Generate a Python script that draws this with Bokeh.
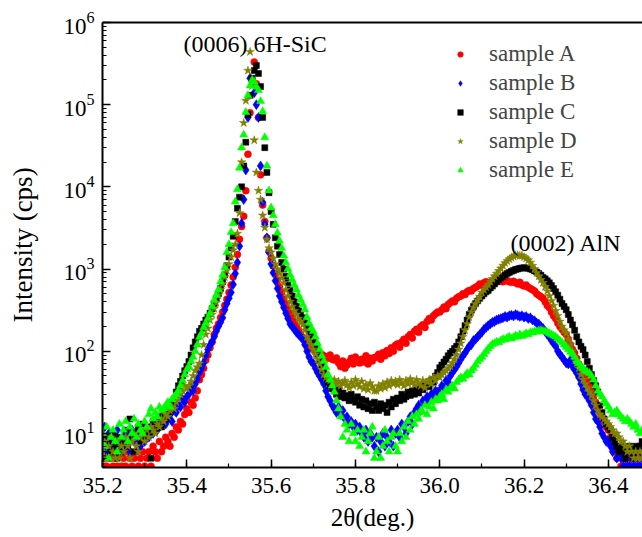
import numpy as np
from bokeh.plotting import figure
from bokeh.models import (LinearAxis, LogAxis, LogTicker, SingleIntervalTicker, FixedTicker,
                          NumeralTickFormatter, Legend, LegendItem, Label, Range1d)
from bokeh.embed import file_html
from bokeh.resources import INLINE

# 2-theta scan grid (deg.), 0.005 deg step
two_theta = np.round(35.2 + 0.005 * np.arange(257), 3)

sample_a = [
    5, 4, 4, 6, 5, 4, 5, 4, 6, 4,
    5, 4, 6, 5, 4, 5, 6, 4, 5, 6,
    4, 5, 6, 4, 7, 6, 5, 8, 6, 7,
    9, 8, 7, 10, 9, 12, 11, 14, 13, 17,
    20, 18, 24, 22, 27, 33, 45, 52, 62, 78,
    90, 110, 130, 160, 190, 215, 255, 300, 360, 430,
    520, 640, 800, 1050, 1500, 2300, 3300, 4400, 9000, 25000,
    80000, 200000, 330000, 180000, 70000, 14000, 6000, 3800, 2400, 1650,
    1350, 1100, 880, 730, 610, 520, 430, 370, 320, 285,
    255, 225, 200, 180, 160, 148, 135, 125, 118, 110,
    104, 98, 95, 90, 92, 88, 85, 82, 90, 80,
    78, 83, 72, 65, 76, 62, 68, 74, 82, 70,
    85, 78, 72, 80, 74, 88, 70, 82, 76, 84,
    85, 92, 80, 96, 88, 102, 94, 110, 100, 118,
    123, 112, 130, 140, 125, 150, 160, 145, 175, 185,
    170, 200, 210, 195, 230, 250, 240, 270, 285, 300,
    300, 320, 345, 330, 370, 390, 410, 400, 440, 460,
    470, 500, 490, 530, 550, 540, 580, 600, 620, 660,
    640, 680, 700, 660, 690, 720, 700, 740, 710, 730,
    700, 740, 720, 700, 690, 710, 680, 660, 690, 640,
    620, 640, 600, 580, 560, 540, 500, 480, 460, 440,
    400, 360, 340, 300, 270, 250, 220, 200, 185, 170,
    160, 140, 120, 105, 95, 82, 70, 62, 55, 48,
    45, 38, 33, 28, 24, 21, 18, 16, 14, 12,
    11, 9, 7, 6, 5, 6, 4, 5, 4, 5,
    4, 5, 4, 4, 5, 4, 5,
]

sample_b = [
    8, 12, 6, 10, 7, 9, 6, 11, 8, 7,
    9, 7, 10, 6, 11, 8, 10, 9, 7, 10,
    8, 11, 9, 12, 10, 13, 11, 12, 14, 16,
    13, 15, 17, 14, 19, 18, 22, 21, 26, 24,
    28, 30, 36, 33, 40, 46, 55, 62, 72, 88,
    105, 118, 130, 150, 175, 200, 225, 255, 320, 380,
    440, 520, 650, 880, 1200, 1900, 3600, 7000, 16000, 70000,
    210000, 190000, 140000, 100000, 70000, 18000, 6500, 3500, 2400, 1600,
    1150, 900, 720, 580, 470, 400, 340, 290, 250, 215,
    200, 185, 170, 160, 150, 140, 120, 100, 85, 75,
    71, 62, 55, 50, 45, 40, 33, 28, 25, 22,
    20, 18, 21, 17, 19, 15, 16, 13, 14, 12,
    13, 11, 12, 10, 9, 11, 8, 10, 9, 7,
    9, 6, 8, 10, 7, 9, 8, 11, 7, 10,
    11, 9, 13, 12, 10, 14, 16, 13, 18, 20,
    22, 19, 25, 24, 28, 26, 30, 29, 33, 32,
    33, 38, 36, 44, 42, 50, 55, 60, 65, 72,
    80, 88, 95, 105, 115, 120, 135, 140, 150, 160,
    170, 185, 195, 205, 215, 225, 230, 240, 245, 250,
    255, 265, 260, 270, 275, 268, 280, 272, 265, 270,
    260, 265, 250, 255, 240, 235, 220, 215, 200, 190,
    175, 160, 150, 135, 125, 115, 100, 92, 85, 78,
    72, 70, 78, 65, 60, 54, 48, 40, 34, 30,
    28, 25, 22, 18, 15, 14, 12, 10, 9, 8,
    8, 7, 6, 7, 5, 6, 5, 4, 5, 4,
    4, 5, 4, 5, 4, 4, 5,
]

sample_c = [
    7, 9, 5, 8, 6, 10, 7, 5, 9, 6,
    8, 11, 7, 15, 9, 6, 10, 12, 8, 13,
    9, 12, 10, 5, 14, 11, 13, 16, 12, 18,
    15, 20, 18, 24, 26, 32, 38, 43, 50, 58,
    65, 75, 90, 110, 130, 150, 175, 190, 215, 240,
    260, 290, 330, 380, 440, 500, 580, 700, 850, 1100,
    1400, 1800, 2500, 3800, 5500, 7500, 10000, 18000, 35000, 76000,
    130000, 210000, 260000, 300000, 240000, 166000, 70000, 30000, 15000, 8500,
    5000, 3500, 2400, 1900, 1500, 1200, 1000, 820, 680, 560,
    470, 400, 350, 310, 280, 255, 220, 195, 175, 155,
    130, 110, 92, 78, 66, 56, 48, 42, 38, 35,
    33, 30, 34, 28, 31, 27, 29, 25, 30, 26,
    24, 28, 22, 26, 21, 25, 20, 23, 19, 24,
    21, 19, 23, 20, 22, 18, 24, 21, 26, 23,
    27, 25, 30, 26, 28, 32, 29, 33, 30, 34,
    31, 36, 34, 38, 40, 37, 44, 42, 50, 55,
    63, 68, 74, 80, 88, 95, 100, 108, 115, 130,
    150, 175, 205, 240, 280, 315, 350, 380, 410, 440,
    470, 500, 530, 550, 590, 620, 660, 700, 740, 780,
    810, 850, 880, 910, 940, 960, 990, 1000, 1020, 1030,
    1040, 1030, 1020, 1000, 980, 950, 920, 880, 840, 790,
    760, 720, 680, 630, 580, 530, 480, 430, 380, 350,
    320, 280, 240, 210, 180, 150, 130, 115, 105, 90,
    75, 62, 52, 44, 38, 32, 22, 18, 15, 13,
    12, 11, 9, 8, 7, 6, 7, 6, 5, 6,
    7, 6, 5, 7, 6, 7, 8,
]

sample_d = [
    6, 8, 5, 7, 9, 6, 5, 8, 5, 7,
    6, 9, 7, 5, 8, 10, 7, 6, 9, 10,
    8, 11, 9, 12, 11, 10, 13, 12, 15, 14,
    17, 16, 19, 21, 20, 24, 27, 30, 33, 38,
    35, 38, 43, 50, 58, 64, 71, 90, 120, 160,
    190, 240, 280, 330, 390, 480, 560, 660, 800, 960,
    1150, 1400, 1700, 2000, 2700, 4800, 20000, 60000, 112000, 260000,
    440000, 170000, 37000, 15000, 9000, 7000, 4500, 3200, 2300, 1800,
    1600, 1350, 1150, 1000, 880, 780, 680, 560, 470, 400,
    350, 310, 280, 250, 230, 210, 180, 150, 135, 120,
    105, 92, 80, 70, 60, 52, 48, 46, 44, 42,
    45, 40, 43, 38, 41, 44, 39, 36, 42, 38,
    45, 40, 37, 43, 35, 39, 34, 41, 37, 33,
    33, 38, 35, 40, 36, 42, 38, 44, 40, 43,
    39, 45, 41, 38, 44, 40, 46, 42, 39, 45,
    41, 38, 44, 36, 42, 45, 40, 48, 44, 50,
    48, 52, 55, 58, 62, 66, 72, 80, 90, 105,
    125, 150, 180, 215, 260, 300, 340, 380, 420, 460,
    520, 560, 600, 640, 700, 760, 820, 880, 950, 1020,
    1100, 1180, 1250, 1320, 1380, 1430, 1470, 1480, 1450, 1460,
    1400, 1350, 1280, 1200, 1100, 1000, 900, 820, 740, 680,
    610, 540, 470, 410, 360, 310, 270, 230, 200, 180,
    165, 140, 120, 100, 85, 72, 62, 52, 45, 40,
    36, 32, 29, 25, 22, 19, 17, 16, 15, 14,
    13, 12, 11, 10, 10, 9, 8, 8, 7, 6,
    7, 6, 5, 6, 5, 6, 5,
]

sample_e = [
    10, 7, 12, 5, 9, 11, 8, 6, 13, 9,
    11, 14, 8, 12, 10, 15, 9, 13, 11, 10,
    14, 12, 17, 20, 15, 18, 16, 21, 19, 20,
    22, 24, 21, 26, 28, 30, 33, 38, 44, 52,
    60, 65, 75, 85, 100, 120, 148, 165, 195, 220,
    250, 290, 350, 420, 480, 560, 700, 850, 1050, 1600,
    2000, 2800, 3600, 6600, 9300, 17000, 30000, 43000, 81000, 130000,
    170000, 200000, 190000, 165000, 150000, 110000, 83000, 40000, 18000, 9000,
    5600, 4500, 3500, 2750, 2200, 1800, 1450, 1200, 1000, 850,
    740, 640, 560, 480, 420, 370, 320, 260, 220, 190,
    175, 150, 125, 105, 88, 76, 64, 52, 45, 38,
    32, 25, 20, 16, 9, 13, 11, 8, 13, 10,
    8, 11, 7, 9, 11, 6, 8, 10, 12, 5,
    6, 9, 5, 7, 11, 8, 6, 9, 10, 7,
    6, 10, 8, 12, 9, 14, 11, 16, 13, 17,
    15, 19, 18, 22, 17, 21, 24, 20, 26, 25,
    28, 30, 26, 34, 32, 36, 38, 35, 42, 45,
    48, 46, 50, 54, 52, 58, 62, 68, 75, 80,
    85, 92, 100, 108, 115, 122, 125, 130, 128, 135,
    140, 138, 145, 150, 142, 148, 155, 150, 160, 152,
    158, 165, 160, 170, 168, 175, 172, 178, 180, 176,
    175, 170, 165, 160, 155, 150, 142, 135, 128, 120,
    112, 105, 98, 93, 85, 76, 71, 66, 62, 58,
    56, 54, 50, 45, 38, 33, 30, 28, 25, 23,
    21, 19, 17, 18, 19, 17, 16, 15, 14, 15,
    14, 13, 12, 13, 11, 10, 11,
]

series_names = ["sample A", "sample B", "sample C", "sample D", "sample E"]
series_values = [sample_a, sample_b, sample_c, sample_d, sample_e]
x_ticks_step = 0.2

FONT = "'Liberation Serif', 'Times New Roman', serif"

p = figure(width=642, height=537, y_axis_type="log",
           x_range=Range1d(35.2, 36.481), y_range=Range1d(3.85, 1e6),
           output_backend="svg", toolbar_location=None,
           min_border_left=102, min_border_right=0, min_border_top=22,
           min_border_bottom=70)
p.outline_line_color = None
p.xgrid.visible = False
p.ygrid.visible = False
p.background_fill_color = "white"

styles = [
    dict(marker="circle", size=7, color="#ff0000"),
    dict(marker="diamond", size=10, color="#0000ff"),
    dict(marker="square", size=6, color="#000000"),
    dict(marker="star", size=9, color="#808000"),
    dict(marker="triangle", size=8, color="#00ff00"),
]

items = []
for name, vals, st in zip(series_names, series_values, styles):
    r = p.scatter(two_theta, vals, marker=st["marker"], size=st["size"],
                  fill_color=st["color"], line_color=st["color"], line_width=0.5)
    items.append(LegendItem(label=name, renderers=[r]))

legend = Legend(items=items, location=(351, 284),
                label_text_font=FONT, label_text_font_size="23px",
                glyph_width=14, glyph_height=14, label_standoff=22,
                spacing=3, padding=0, margin=0,
                border_line_color=None, background_fill_alpha=0)
p.add_layout(legend, "center")

# x axis
xa = p.xaxis[0]
xa.ticker = SingleIntervalTicker(interval=x_ticks_step, num_minor_ticks=2)
xa.formatter = NumeralTickFormatter(format="0.0")
xa.axis_label = "2θ(deg.)"

# y axis
ya = p.yaxis[0]
ya.ticker = LogTicker(num_minor_ticks=10, mantissas=[1])

for ax in (xa, ya):
    ax.axis_line_width = 2
    ax.axis_line_color = "black"
    ax.major_tick_in = 8
    ax.major_tick_out = 0
    ax.minor_tick_in = 4
    ax.minor_tick_out = 0
    ax.major_tick_line_width = 1.5
    ax.minor_tick_line_width = 1.2
    ax.major_label_text_font = FONT
    ax.major_label_text_font_size = "23px"
    ax.major_label_text_color = "black"
    ax.axis_label_text_font = FONT
    ax.axis_label_text_font_style = "normal"
    ax.axis_label_text_color = "black"

xa.major_label_standoff = 10
xa.axis_label_text_font_size = "25px"
xa.axis_label_standoff = 8
ya.major_label_standoff = 8

# y-axis title carried by a bare outer axis whose bounds centre it like the original
title_axis = LogAxis(ticker=FixedTicker(ticks=[]), bounds=(10.0, 10 ** 5.014),
                     axis_line_color=None, major_tick_line_color=None,
                     minor_tick_line_color=None, major_label_text_font_size="0px",
                     major_tick_in=0, major_tick_out=0, minor_tick_in=0, minor_tick_out=0,
                     axis_label="Intensity (cps)", axis_label_standoff=23,
                     axis_label_text_font=FONT, axis_label_text_font_style="normal",
                     axis_label_text_font_size="27px", axis_label_text_color="black")
p.add_layout(title_axis, "left")

top = LinearAxis(ticker=FixedTicker(ticks=[]), axis_line_width=2,
                 major_tick_line_color=None, minor_tick_line_color=None,
                 major_label_text_font_size="0px")
p.add_layout(top, "above")

p.add_layout(Label(x=35.392, y=5.4e5, text="(0006) 6H-SiC", text_baseline="middle",
                   text_font=FONT, text_font_size="24px", text_color="black"))
p.add_layout(Label(x=36.168, y=2075, text="(0002) AlN", text_baseline="middle",
                   text_font=FONT, text_font_size="24px", text_color="black"))

open("out.html", "w").write(file_html(p, INLINE))
